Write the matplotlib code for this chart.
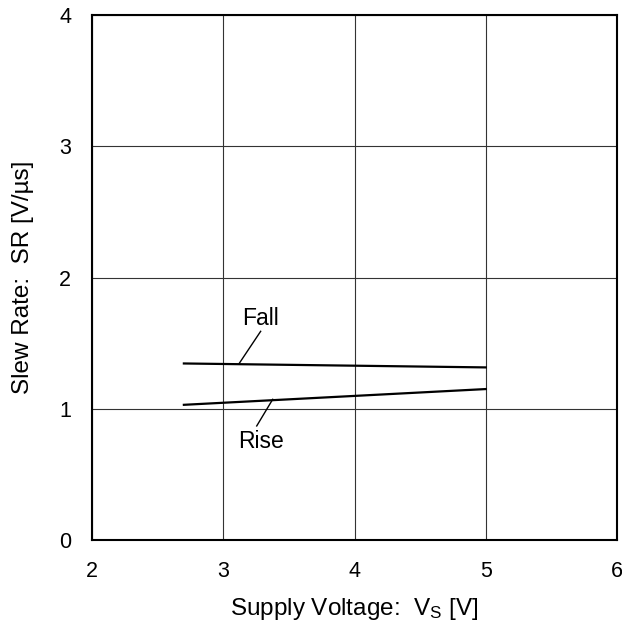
import numpy as np
import matplotlib.pyplot as plt

plt.rcParams['font.family'] = ['Liberation Sans', 'DejaVu Sans']
plt.rcParams['mathtext.default'] = 'regular'

# slew rate vs supply voltage
vs = [2.7, 5.0]
sr_fall = [1.345, 1.315]
sr_rise = [1.03, 1.15]

xticks = [2, 3, 4, 5, 6]
yticks = [0, 1, 2, 3, 4]

fig = plt.figure(figsize=(6.22, 6.26), dpi=100)
ax = fig.add_axes([92/622, 86/626, 525/622, 525/626])

ax.plot(vs, sr_fall, color='black', lw=1.6)
ax.plot(vs, sr_rise, color='black', lw=1.6)

# leader lines and labels
ax.plot([3.285, 3.122], [1.59, 1.346], color='black', lw=1)
ax.text(3.28, 1.69, 'Fall', fontsize=16.5, ha='center', va='center')
ax.plot([3.377, 3.255], [1.072, 0.869], color='black', lw=1)
ax.text(3.29, 0.75, 'Rise', fontsize=16.5, ha='center', va='center')

ax.set_xlim(2, 6)
ax.set_ylim(0, 4)
ax.set_xticks(xticks)
ax.set_yticks(yticks)
ax.tick_params(length=0, labelsize=15.5, pad=15)
ax.grid(True, color='#333333', lw=0.8)
for s in ax.spines.values():
    s.set_linewidth(1.5)

ax.set_xlabel('Supply Voltage:  V$_S$ [V]', fontsize=17.5, labelpad=10)
ax.set_ylabel('Slew Rate:  SR [V/\u00b5s]', fontsize=17.5, labelpad=18)

fig.savefig('out.png', dpi=100)
